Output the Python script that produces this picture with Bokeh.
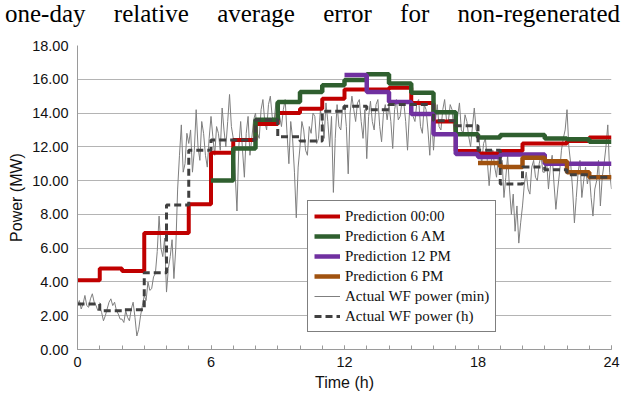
from bokeh.plotting import figure
from bokeh.models import (Div, Legend, LegendItem, FixedTicker, Range1d,
                          NumeralTickFormatter)
from bokeh.layouts import column
from bokeh.embed import file_html
from bokeh.resources import INLINE

# ---------------- data ----------------
heading = "one-day relative average error for non-regenerated"
x_ticks = [0, 6, 12, 18, 24]
x_minor = list(range(25))
y_ticks = [0, 2, 4, 6, 8, 10, 12, 14, 16, 18]

hours = list(range(24))
pred_00 = [4.1, 4.8, 4.65, 6.9, 6.9, 8.6, 11.65, 12.4, 13.35, 14.0, 14.25, 14.85,
           15.4, 15.4, 15.5, 14.6, 13.5, 11.75, 11.6, 11.75, 12.2, 12.2, 12.35, 12.55]
hours_6am = list(range(6, 24))
pred_6am = [10.0, 11.9, 13.6, 14.65, 15.25, 15.65, 15.95, 16.3, 15.75, 15.2, 14.05,
            12.75, 12.55, 12.7, 12.7, 12.5, 12.45, 12.3]
hours_12pm = list(range(12, 24))
pred_12pm = [16.25, 15.25, 14.65, 13.95, 12.75, 11.57, 11.4, 11.55, 11.55, 11.0, 11.0, 11.0]
hours_6pm = list(range(18, 24))
pred_6pm = [11.05, 10.8, 11.35, 11.15, 10.5, 10.2]
actual_h = [2.7, 2.3, 2.35, 4.55, 8.55, 11.8, 12.4, 12.4, 13.6, 12.6, 12.35, 14.1,
            14.4, 14.2, 14.5, 14.5, 13.55, 13.25, 11.8, 9.8, 10.8, 10.65, 10.35, 10.2]
# actual WF power read about every 5 minutes (12 values per hour)
actual_min = [
    2.6, 2.9, 2.4, 2.7, 3.2, 2.6, 2.5, 3.0, 3.3, 2.8, 2.6, 2.3,
    2.5, 2.2, 1.7, 2.0, 2.4, 2.8, 3.0, 2.6, 2.8, 2.3, 2.1, 1.8,
    1.8, 1.6, 2.3, 1.9, 1.7, 2.4, 2.8, 1.9, 0.8, 1.2, 2.0, 2.6,
    3.2, 2.9, 4.0, 3.5, 3.6, 4.3, 4.5, 5.8, 7.9, 6.0, 5.5, 6.6,
    3.4, 4.8, 5.5, 6.5, 4.2, 6.0, 9.5, 11.5, 13.3, 10.5, 11.0, 12.8,
    12.2, 13.0, 10.5, 11.8, 14.2, 12.0, 11.2, 13.5, 12.8, 11.5, 10.8, 12.5,
    13.8, 12.6, 11.5, 13.2, 12.8, 11.8, 14.3, 13.0, 12.0, 13.5, 15.1, 13.2,
    12.5, 10.5, 8.2, 12.0, 13.5, 11.8, 10.2, 12.8, 13.8, 11.5, 12.5, 13.6,
    14.0, 12.8, 12.5, 14.2, 14.8, 13.5, 13.0, 14.5, 15.0, 13.8, 13.5, 14.6,
    14.5, 13.8, 13.2, 14.2, 14.8, 12.8, 11.0, 13.5, 12.5, 10.5, 7.8, 10.8,
    12.0, 13.5, 13.0, 11.8, 11.5, 13.2, 12.8, 14.0, 13.8, 12.2, 12.5, 14.2,
    13.5, 12.5, 14.6, 13.5, 12.0, 13.8, 9.3, 12.5, 14.5, 13.2, 13.0, 14.4,
    14.5, 13.2, 10.4, 14.0, 15.0, 14.2, 13.5, 14.6, 14.8, 13.5, 12.5, 14.2,
    11.3, 13.8, 14.7, 13.5, 13.0, 14.5, 14.8, 13.2, 12.3, 14.0, 14.5, 13.6,
    14.5, 13.5, 11.9, 14.2, 14.8, 13.6, 13.8, 14.7, 14.6, 13.5, 11.8, 14.0,
    14.5, 13.8, 13.5, 14.6, 14.8, 13.2, 12.8, 14.5, 14.2, 13.0, 11.5, 13.8,
    11.8, 13.5, 14.5, 13.2, 13.0, 14.2, 14.8, 13.6, 13.5, 14.5, 14.2, 13.0,
    12.5, 13.8, 14.6, 13.0, 12.8, 13.9, 13.5, 12.6, 12.0, 13.2, 14.3, 13.0,
    12.8, 12.0, 11.0, 12.2, 12.5, 11.2, 9.7, 11.0, 11.8, 10.8, 10.2, 11.5,
    10.5, 11.2, 9.0, 10.2, 11.5, 9.5, 8.0, 9.2, 7.0, 8.5, 6.3, 7.5,
    8.5, 9.8, 10.5, 9.5, 9.2, 10.8, 11.2, 10.2, 10.0, 11.0, 11.5, 10.5,
    10.5, 11.2, 9.5, 10.8, 11.5, 9.8, 8.3, 9.5, 10.5, 11.8, 12.5, 13.0,
    14.2, 12.0, 11.0, 9.5, 7.5, 9.0, 10.5, 11.2, 9.0, 10.0, 10.8, 9.8,
    10.5, 9.0, 7.9, 9.5, 10.0, 11.2, 8.5, 10.2, 11.0, 12.0, 13.3, 10.5,
    9.5,
]
t_min = [i / 12 for i in range(len(actual_min))]


def steps(xs, ys):
    return list(xs) + [xs[-1] + 1], list(ys) + [ys[-1]]


# ---------------- figure ----------------
p = figure(width=628, height=369, x_range=Range1d(0, 24), y_range=Range1d(0, 18),
           output_backend="svg", toolbar_location=None,
           min_border_left=77, min_border_right=17, min_border_top=17,
           min_border_bottom=48)
p.outline_line_color = None
p.background_fill_color = "white"

p.xgrid.grid_line_color = None
p.ygrid.grid_line_color = "#b4b4b4"
p.ygrid.grid_line_width = 1

p.xaxis.ticker = FixedTicker(ticks=x_ticks, minor_ticks=x_minor)
p.yaxis.ticker = FixedTicker(ticks=y_ticks)
p.yaxis.formatter = NumeralTickFormatter(format="0.00")

for ax in (p.xaxis, p.yaxis):
    ax.axis_line_color = "#9a9a9a"
    ax.major_label_text_font = "Liberation Sans"
    ax.major_label_text_font_size = "14.5px"
    ax.major_label_text_color = "#111111"
    ax.axis_label_text_font = "Liberation Sans"
    ax.axis_label_text_font_size = "16px"
    ax.axis_label_text_font_style = "normal"
    ax.axis_label_text_color = "#111111"

p.xaxis.major_tick_in = 4
p.xaxis.major_tick_out = 0
p.xaxis.minor_tick_in = 4
p.xaxis.minor_tick_out = 0
p.xaxis.major_tick_line_color = "#9a9a9a"
p.xaxis.minor_tick_line_color = "#9a9a9a"
p.xaxis.major_label_standoff = 7
p.xaxis.axis_label = "Time (h)"
p.xaxis.axis_label_standoff = 4

p.yaxis.major_tick_line_color = None
p.yaxis.minor_tick_line_color = None
p.yaxis.major_tick_in = 0
p.yaxis.major_tick_out = 0
p.yaxis.minor_tick_in = 0
p.yaxis.minor_tick_out = 0
p.yaxis.major_label_standoff = 9
p.yaxis.axis_label = "Power (MW)"
p.yaxis.axis_label_standoff = 4

r_min = p.line(t_min, actual_min, line_color="#7f7f7f", line_width=1)

x, y = steps(hours, pred_00)
r_00 = p.step(x, y, mode="after", line_color="#c00000", line_width=4)
x, y = steps(hours_6am, pred_6am)
r_6am = p.step(x, y, mode="after", line_color="#2f5f2f", line_width=4.5)
x, y = steps(hours_12pm, pred_12pm)
r_12pm = p.step(x, y, mode="after", line_color="#7030a0", line_width=4.5)
x, y = steps(hours_6pm, pred_6pm)
r_6pm = p.step(x, y, mode="after", line_color="#a0520f", line_width=4.5)
x, y = steps(hours, actual_h)
r_h = p.step(x, y, mode="after", line_color="#404040", line_width=3,
             line_dash="7 4")

legend = Legend(items=[
    LegendItem(label="Prediction 00:00", renderers=[r_00]),
    LegendItem(label="Prediction 6 AM", renderers=[r_6am]),
    LegendItem(label="Prediction 12 PM", renderers=[r_12pm]),
    LegendItem(label="Prediction 6 PM", renderers=[r_6pm]),
    LegendItem(label="Actual WF power (min)", renderers=[r_min]),
    LegendItem(label="Actual WF power (h)", renderers=[r_h]),
], location=(230, 17))
legend.border_line_color = "black"
legend.border_line_width = 1
legend.background_fill_color = "white"
legend.background_fill_alpha = 1
legend.label_text_font = "Liberation Serif"
legend.label_text_font_size = "15px"
legend.label_text_color = "#111111"
legend.glyph_width = 26
legend.glyph_height = 18
legend.label_height = 18
legend.label_standoff = 5
legend.spacing = 2
legend.padding = 6
legend.margin = 0
p.add_layout(legend, "center")

div = Div(text=('<div style="width:615px; margin-left:5px; text-align:justify; '
                'text-align-last:justify; font-family:\'Liberation Serif\'; '
                'font-size:25px; line-height:28px; color:black;">'
                + heading + '</div>'),
          width=628, height=28, margin=(0, 0, 0, 0))

layout = column(div, p, spacing=0, margin=(0, 0, 0, 0))

open("out.html", "w").write(file_html(layout, INLINE))
